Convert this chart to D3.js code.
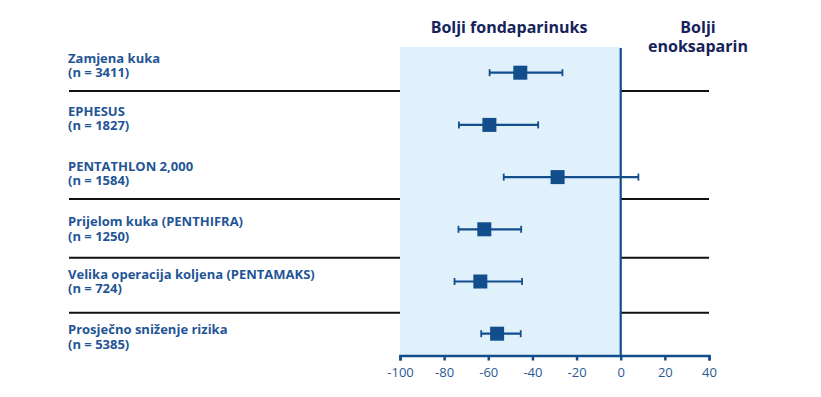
<!DOCTYPE html>
<html>
<head>
  <script src="https://cdnjs.cloudflare.com/ajax/libs/d3/7.8.5/d3.min.js"></script>
  <style>
    body { margin: 0; background: white; font-family: "Open Sans", sans-serif; }
    .study { font-size: 13px; font-weight: 700; fill: #1f5596; }
    .head { font-size: 16px; font-weight: 700; fill: #15235b; }
    .axis text { font-size: 13px; fill: #2a5a94; font-family: "Open Sans", sans-serif; }
    .axis path, .axis line { stroke: #124d8c; stroke-width: 2.5px; }
  </style>
</head>
<body>
  <div id="chart"></div>
  <script>
    // study names and sizes
    const studies = ["Zamjena kuka", "EPHESUS", "PENTATHLON 2,000", "Prijelom kuka (PENTHIFRA)",
                     "Velika operacija koljena (PENTAMAKS)", "Prosječno sniženje rizika"];
    const sizes = [3411, 1827, 1584, 1250, 724, 5385];

    // risk reduction (%) with 95% CI
    const estimate = [-45.5, -59.5, -28.6, -61.8, -63.6, -56];
    const ciLow = [-59.4, -73.3, -53, -73.5, -75.3, -63.2];
    const ciHigh = [-26.4, -37.4, 8, -45.1, -44.7, -45.3];

    const ticks = [-100, -80, -60, -40, -20, 0, 20, 40];

    const width = 821, height = 397;
    const svg = d3.select("#chart").append("svg")
      .attr("width", width).attr("height", height);

    const x = d3.scaleLinear().domain([-100, 40]).range([400, 709]);
    const y = d3.scalePoint().domain(d3.range(studies.length)).range([72.7, 333.7]);
    const plotTop = 47, axisY = 355.5;
    // nudge of label block relative to the marker row
    const labelShift = [-10, -9, -6.5, -3, -3, 0.5];
    // separator rules (between rows)
    const sepY = [91, 199, 257.7, 312.7];

    // shaded "better fondaparinux" zone
    svg.append("rect")
      .attr("x", x(-100)).attr("y", plotTop)
      .attr("width", x(0) - x(-100)).attr("height", axisY - plotTop)
      .attr("fill", "#e0f1fc");

    // separators
    sepY.forEach(s => {
      svg.append("line").attr("x1", 69).attr("x2", x(-100)).attr("y1", s).attr("y2", s)
        .attr("stroke", "#111").attr("stroke-width", 2);
      svg.append("line").attr("x1", x(0)).attr("x2", x(40)).attr("y1", s).attr("y2", s)
        .attr("stroke", "#111").attr("stroke-width", 2);
    });

    // zero line
    svg.append("line")
      .attr("x1", x(0)).attr("x2", x(0)).attr("y1", plotTop + 1).attr("y2", axisY)
      .attr("stroke", "#124d8c").attr("stroke-width", 2.2);

    // axis (plain hyphen for negatives, as in the reference)
    const axis = svg.append("g").attr("class", "axis")
      .attr("transform", `translate(0,${axisY})`)
      .call(d3.axisBottom(x).tickValues(ticks).tickFormat(d => String(d))
        .tickSize(5).tickPadding(4).tickSizeOuter(5));
    axis.selectAll("text").attr("dy", "0.95em");

    // headers
    svg.append("text").attr("class", "head")
      .attr("x", 509).attr("y", 33).attr("text-anchor", "middle")
      .text("Bolji fondaparinuks");
    svg.append("text").attr("class", "head")
      .attr("x", 698).attr("y", 33).attr("text-anchor", "middle")
      .text("Bolji");
    svg.append("text").attr("class", "head")
      .attr("x", 698).attr("y", 51.5).attr("text-anchor", "middle")
      .text("enoksaparin");

    // study labels
    const lab = svg.selectAll(".study").data(studies).enter()
      .append("text").attr("class", "study")
      .attr("x", 68)
      .attr("y", (d, i) => y(i) + labelShift[i]);
    lab.append("tspan").text(d => d);
    lab.append("tspan").attr("x", 68).attr("dy", 14.5)
      .text((d, i) => `(n = ${sizes[i]})`);

    // CI lines, caps and squares
    const markColor = "#124d8c";
    const rows = svg.selectAll(".row").data(studies).enter()
      .append("g").attr("class", "row");
    rows.append("line")
      .attr("x1", (d, i) => x(ciLow[i])).attr("x2", (d, i) => x(ciHigh[i]))
      .attr("y1", (d, i) => y(i)).attr("y2", (d, i) => y(i))
      .attr("stroke", markColor).attr("stroke-width", 2.2);
    [ciLow, ciHigh].forEach(arr => {
      rows.append("line")
        .attr("x1", (d, i) => x(arr[i])).attr("x2", (d, i) => x(arr[i]))
        .attr("y1", (d, i) => y(i) - 3.5).attr("y2", (d, i) => y(i) + 3.5)
        .attr("stroke", markColor).attr("stroke-width", 1.8);
    });
    rows.append("rect")
      .attr("x", (d, i) => x(estimate[i]) - 7).attr("y", (d, i) => y(i) - 7)
      .attr("width", 14).attr("height", 14)
      .attr("fill", markColor);
  </script>
</body>
</html>
